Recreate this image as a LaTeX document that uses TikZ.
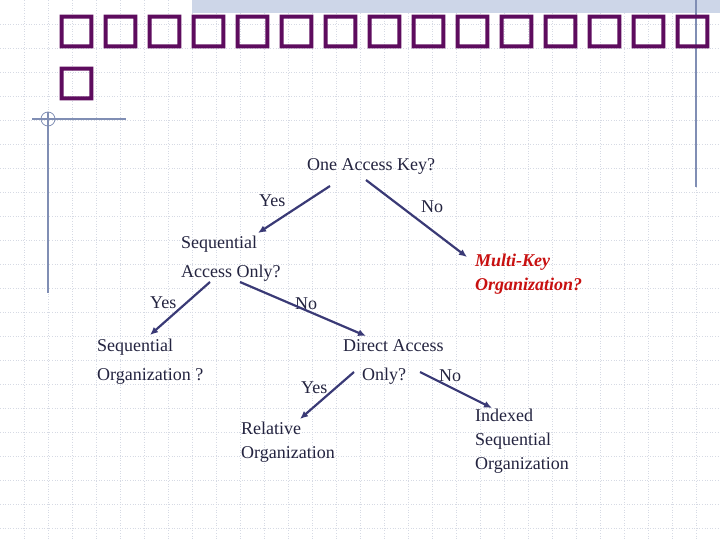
\documentclass[tikz,border=0pt]{standalone}
\usepackage{fontspec}
\setmainfont{Liberation Serif}
\newfontfamily\tofufont[FakeBold=4]{DejaVu Sans}
\usepackage{xcolor}
\usetikzlibrary{arrows.meta,positioning}

\definecolor{tofupurple}{RGB}{94,12,94}
\definecolor{inknavy}{RGB}{36,36,64}
\definecolor{arrownavy}{RGB}{58,58,118}
\definecolor{slideline}{RGB}{128,142,180}
\definecolor{gridgray}{RGB}{214,218,228}
\definecolor{bandblue}{RGB}{205,214,232}
\definecolor{keyred}{RGB}{200,16,16}

\tikzset{
    gridline/.style={gridgray, dotted, line width=0.6pt},
    label/.style={inknavy, inner sep=0pt, anchor=base west, font=\fontsize{18}{29}\selectfont},
    question/.style={label, align=left},
    leaf/.style={label, align=left, font=\fontsize{18}{24}\selectfont},
    redkey/.style={leaf, keyred, font=\fontsize{18}{24}\selectfont\bfseries\itshape},
    branch/.style={arrownavy, line width=2.2pt, -{Latex[length=8pt,width=7pt]}},
    tofu/.style={tofupurple, inner sep=0pt, font=\tofufont\fontsize{42}{42}\selectfont}
}

\begin{document}
\begin{tikzpicture}[x=1pt,y=-1pt]
    \useasboundingbox (0,0) rectangle (720,540);
    \fill[white] (0,0) rectangle (720,540);

    % Draw slide grid
    \foreach \x in {24,48,...,696} {
        \draw[gridline] (\x,0) -- (\x,540);
    }
    \foreach \y in {24,48,...,528} {
        \draw[gridline] (0,\y) -- (720,\y);
    }

    % Slide decoration
    \fill[bandblue] (192,0) rectangle (720,13);
    \draw[slideline, line width=1.2pt] (696,0) -- (696,187);
    \draw[slideline, line width=1.2pt] (32,119) -- (126,119);
    \draw[slideline, line width=1.2pt] (48,112) -- (48,293);
    \draw[slideline, line width=0.8pt] (48,119) circle (7);

    % Title (glyphs missing in the source)
    \foreach \i in {0,...,14} {
        \node[tofu] (title\i) at ({76.5+44*\i},31.5) {□};
    }
    \node[tofu] (title15) at (76.5,83.5) {□};

    % Decision nodes (placed at the baseline of their last line)
    \node[label] (onekey) at (307,171) {One Access Key?};
    \node[question] (seqonly) at (181,277) {Sequential\\Access Only?};
    \node[redkey] (multikey) at (475,290) {Multi-Key\\Organization?};
    \node[question] (seqorg) at (97,380) {Sequential\\Organization ?};
    \node[question] (directonly) at (343,380) {Direct Access\\\hspace*{19pt}Only?};
    \node[leaf] (relorg) at (241,458) {Relative\\Organization};
    \node[leaf] (idxorg) at (475,469) {Indexed\\Sequential\\Organization};

    % Branch labels
    \node[label] (yesA) at (259,207) {Yes};
    \node[label] (noA) at (421,213) {No};
    \node[label] (yesB) at (150,308) {Yes};
    \node[label] (noB) at (295,309) {No};
    \node[label] (yesC) at (301,393) {Yes};
    \node[label] (noC) at (439,381) {No};

    % Branches
    \draw[branch] ([shift={(23,15)}]onekey.base west) -- ([shift={(77,-44)}]seqonly.base west);
    \draw[branch] ([shift={(59,9)}]onekey.base west) -- ([shift={(-8,-33)}]multikey.base west);
    \draw[branch] ([shift={(29,5)}]seqonly.base west) -- ([shift={(53,-45)}]seqorg.base west);
    \draw[branch] ([shift={(59,5)}]seqonly.base west) -- ([shift={(23,-44)}]directonly.base west);
    \draw[branch] ([shift={(11,-8)}]directonly.base west) -- ([shift={(59,-39)}]relorg.base west);
    \draw[branch] ([shift={(77,-8)}]directonly.base west) -- ([shift={(17,-61)}]idxorg.base west);
\end{tikzpicture}
\end{document}
